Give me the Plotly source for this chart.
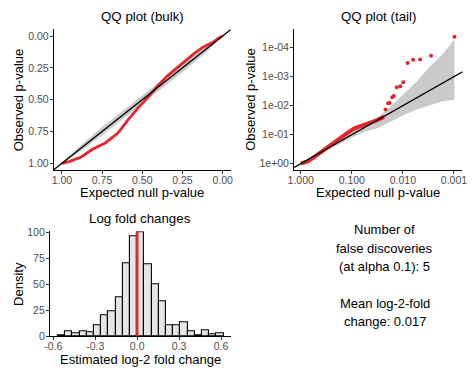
import plotly.graph_objects as go

# ---------------- data ----------------
# QQ bulk: expected vs observed p-values
bulk_expected = [1.0, 0.95, 0.88, 0.81, 0.73, 0.65, 0.59, 0.53, 0.47, 0.41, 0.345, 0.265, 0.18, 0.12, 0.06, 0.01, 0.0]
bulk_observed = [1.0, 0.985, 0.95, 0.89, 0.84, 0.76, 0.66, 0.57, 0.49, 0.40, 0.315, 0.23, 0.14, 0.086, 0.048, 0.005, 0.0]
bulk_band_x = [0.0, 0.1, 0.25, 0.5, 0.75, 0.9, 1.0]
bulk_band_lo = [0.0, 0.078, 0.22, 0.465, 0.715, 0.877, 0.995]
bulk_band_hi = [0.0, 0.125, 0.285, 0.535, 0.78, 0.92, 1.0]

# QQ tail: dense part and isolated points
tail_dense_expected = [1.0, 0.88, 0.73, 0.59, 0.47, 0.41, 0.345, 0.265, 0.18, 0.12, 0.0891, 0.0569, 0.0316, 0.0234]
tail_dense_observed = [1.0, 0.95, 0.84, 0.66, 0.49, 0.40, 0.315, 0.23, 0.14, 0.086, 0.0603, 0.0468, 0.0316, 0.0245]
tail_pts_expected = [0.0219, 0.0195, 0.0182, 0.0162, 0.0151, 0.0132, 0.0112, 0.0098, 0.0081, 0.0063, 0.0046, 0.0028, 0.00098]
tail_pts_observed = [0.0135, 0.0083, 0.0081, 0.0051, 0.0047, 0.00234, 0.00214, 0.00158, 0.00034, 0.000263, 0.000257, 0.00019, 0.0000427]
tail_band_x = [1.0, 0.5, 0.2, 0.1, 0.0562, 0.0316, 0.0178, 0.00977, 0.00537, 0.00302, 0.00166, 0.00098]
tail_band_lo = [0.993, 0.457, 0.166, 0.0794, 0.0427, 0.0263, 0.0112, 0.00407, 0.00148, 0.000468, 0.000166, 0.0000525]
tail_band_hi = [1.0, 0.55, 0.24, 0.126, 0.0794, 0.0603, 0.0363, 0.0214, 0.0135, 0.00955, 0.00708, 0.0063]

# histogram of log fold changes
hist_centers = [-0.541, -0.489, -0.438, -0.386, -0.335, -0.283, -0.232, -0.180, -0.129, -0.077, -0.026,
                0.026, 0.077, 0.129, 0.180, 0.232, 0.283, 0.335, 0.386, 0.438, 0.489, 0.541, 0.592]
hist_counts = [1, 5, 3, 5, 4, 11, 20, 24, 38, 71, 97, 101, 70, 50, 34, 11, 11, 13, 5, 1, 6, 2, 3]
hist_binwidth = 0.0515
mean_line_x = 0.0

info_lines = ["Number of", "false discoveries", "(at alpha 0.1): 5", "", "Mean log-2-fold", "change: 0.017"]

bulk_ticks = [0.0, 0.25, 0.5, 0.75, 1.0]
bulk_ticktext = ["0.00", "0.25", "0.50", "0.75", "1.00"]
tail_xticks = [1.0, 0.1, 0.01, 0.001]
tail_xticktext = ["1.000", "0.100", "0.010", "0.001"]
tail_yticks = [1.0, 0.1, 0.01, 0.001, 0.0001]
tail_yticktext = ["1e+00", "1e-01", "1e-02", "1e-03", "1e-04"]
hist_xticks = [-0.6, -0.3, 0.0, 0.3, 0.6]
hist_xticktext = ["-0.6", "-0.3", "0.0", "0.3", "0.6"]
hist_yticks = [0, 25, 50, 75, 100]

# ---------------- figure ----------------
W, H = 474, 379
FONT = "Liberation Sans, Arial, Helvetica, sans-serif"
RED = "#e3262e"
BAND = "#cacaca"

def px(x):
    return x / W

def py(y):
    return 1 - y / H

fig = go.Figure()

# bulk band
fig.add_trace(go.Scatter(x=bulk_band_x, y=bulk_band_lo, mode="lines", line=dict(width=0, color=BAND),
                         xaxis="x", yaxis="y", showlegend=False, hoverinfo="skip"))
fig.add_trace(go.Scatter(x=bulk_band_x, y=bulk_band_hi, mode="lines", line=dict(width=0, color=BAND),
                         fill="tonexty", fillcolor=BAND, xaxis="x", yaxis="y", showlegend=False, hoverinfo="skip"))
fig.add_trace(go.Scatter(x=bulk_expected, y=bulk_observed, mode="lines", line=dict(color=RED, width=2.8),
                         xaxis="x", yaxis="y", showlegend=False))
diag = [-0.2, 1.2]
fig.add_trace(go.Scatter(x=diag, y=diag, mode="lines", line=dict(color="black", width=1.3),
                         xaxis="x", yaxis="y", showlegend=False))

# tail band
fig.add_trace(go.Scatter(x=tail_band_x, y=tail_band_lo, mode="lines", line=dict(width=0, color=BAND),
                         xaxis="x2", yaxis="y2", showlegend=False, hoverinfo="skip"))
fig.add_trace(go.Scatter(x=tail_band_x, y=tail_band_hi, mode="lines", line=dict(width=0, color=BAND),
                         fill="tonexty", fillcolor=BAND, xaxis="x2", yaxis="y2", showlegend=False, hoverinfo="skip"))
fig.add_trace(go.Scatter(x=tail_dense_expected, y=tail_dense_observed, mode="lines",
                         line=dict(color=RED, width=4), xaxis="x2", yaxis="y2", showlegend=False))
fig.add_trace(go.Scatter(x=tail_pts_expected, y=tail_pts_observed, mode="markers",
                         marker=dict(color=RED, size=4), xaxis="x2", yaxis="y2", showlegend=False))
diag_tail = [2.0, 0.0004]
fig.add_trace(go.Scatter(x=diag_tail, y=diag_tail, mode="lines", line=dict(color="black", width=1.3),
                         xaxis="x2", yaxis="y2", showlegend=False))

# histogram
fig.add_trace(go.Bar(x=hist_centers, y=hist_counts, width=hist_binwidth,
                     marker=dict(color="#e6e6e6", line=dict(color="black", width=1.1)),
                     xaxis="x3", yaxis="y3", showlegend=False))
fig.add_shape(type="line", xref="x3", yref="y3 domain", x0=mean_line_x, x1=mean_line_x, y0=0, y1=1,
              line=dict(color=RED, width=2.5))

axis_common = dict(showline=True, linecolor="black", linewidth=1.2, ticks="outside", ticklen=3,
                   tickcolor="#333333", tickwidth=1, showgrid=False, zeroline=False,
                   tickfont=dict(family=FONT, size=10.5, color="#4d4d4d"), mirror=False)
xaxis_common = dict(axis_common, ticklabelstandoff=-3)
yaxis_common = dict(axis_common, ticklabelstandoff=-1)

fig.update_layout(
    width=W, height=H, margin=dict(l=0, r=0, t=0, b=0),
    paper_bgcolor="white", plot_bgcolor="white", bargap=0,
    font=dict(family=FONT),
    xaxis=dict(domain=[px(49), px(230)], range=[1.05, -0.05], tickvals=bulk_ticks, ticktext=bulk_ticktext,
               anchor="y", **xaxis_common),
    yaxis=dict(domain=[py(170), py(25)], range=[1.053, -0.053], tickvals=bulk_ticks, ticktext=bulk_ticktext,
               anchor="x", **yaxis_common),
    xaxis2=dict(domain=[px(295), px(467)], type="log", range=[0.128, -3.16], tickvals=tail_xticks,
                ticktext=tail_xticktext, anchor="y2", **xaxis_common),
    yaxis2=dict(domain=[py(170), py(25)], type="log", range=[0.22, -4.63], tickvals=tail_yticks,
                ticktext=tail_yticktext, anchor="x2", **yaxis_common),
    xaxis3=dict(domain=[px(45), px(230)], range=[-0.624, 0.669], tickvals=hist_xticks,
                ticktext=hist_xticktext, anchor="y3", **xaxis_common),
    yaxis3=dict(domain=[py(341), py(233)], range=[0, 101.5], tickvals=hist_yticks, anchor="x3", **yaxis_common),
)

def ann(text, x, y, size=13, angle=0):
    fig.add_annotation(text=text, x=px(x), y=py(y), xref="paper", yref="paper", showarrow=False,
                       xanchor="center", yanchor="middle", textangle=angle,
                       font=dict(family=FONT, size=size, color="black"))

ann("QQ plot (bulk)", 139.5, 12, 13.3)
ann("QQ plot (tail)", 381, 12, 13.3)
ann("Expected null p-value", 139.5, 193)
ann("Expected null p-value", 381, 193)
ann("Observed p-value", 13, 97.5, angle=-90)
ann("Observed p-value", 250, 97.5, angle=-90)
ann("Log fold changes", 137.5, 220, 13.3)
ann("Density", 12.5, 287, angle=-90)
ann("Estimated log-2 fold change", 137.5, 365)

info_y = [231.3, 250.3, 269.3, 288.3, 307, 326]
for line, yy in zip(info_lines, info_y):
    if line:
        ann(line, 387.7, yy)

fig.write_html("out.html", config={"displayModeBar": False},
               post_script="document.body.style.margin='0';document.body.style.overflow='hidden';")
